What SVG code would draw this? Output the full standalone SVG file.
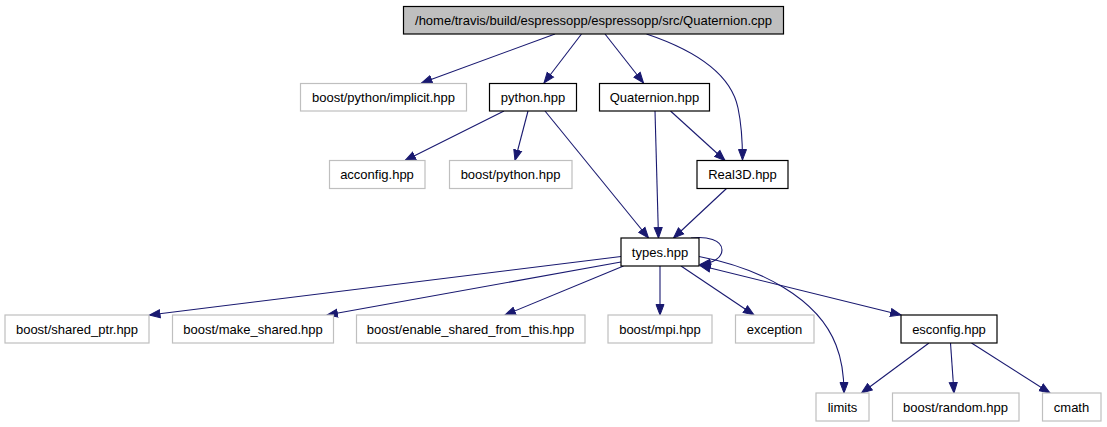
<svg xmlns="http://www.w3.org/2000/svg" width="1107" height="427" viewBox="0 0 1107 427">
<style>
.n rect{fill:#fff;stroke:#000;stroke-width:1.2}
.g rect{fill:#fff;stroke:#bfbfbf;stroke-width:1.2}
.root rect{fill:#bfbfbf;stroke:#000;stroke-width:1.2}
text{font-family:"Liberation Sans",Arial,sans-serif;font-size:13px;fill:#000;text-anchor:middle}
.e path{fill:none;stroke:#191970;stroke-width:1.1;marker-end:url(#ah)}
</style>
<defs>
<marker id="ah" markerUnits="userSpaceOnUse" markerWidth="13" markerHeight="11" refX="11" refY="4.5" orient="auto-start-reverse" viewBox="0 0 13 9">
<path d="M0.5,0.5 L11,4.5 L0.5,8.5 z" fill="#191970" stroke="#191970" stroke-width="1"/>
</marker>
</defs>
<rect width="1107" height="427" fill="#fff"/>
<g class="e" id="edges">
<path d="M555,34 L421.5,83"/>
<path d="M581.5,34 L544,83"/>
<path d="M605,34 L643.5,83"/>
<path d="M646.5,34 C694,50 731,74 738,108 C741,122 742.5,137 742.5,160"/>
<path d="M504,111 L405,160.5"/>
<path d="M528,111 L515,160.5"/>
<path d="M545,111 L648.5,238"/>
<path d="M655,111 L658.5,238"/>
<path d="M670.5,111 L725,160.5"/>
<path d="M726.5,188.5 L673.5,238"/>
<path d="M691,238 C707,236 722,240 722,250 C722,258 713,263 700,264.5"/>
<path d="M621,256.5 L149.5,315"/>
<path d="M621,262 L327,315"/>
<path d="M623.5,266 L505,315"/>
<path d="M660,266 L660,315"/>
<path d="M681,266 L754,315"/>
<path d="M699,256.5 C760,268 818,298 836,345 C842,360 844,375 844,393"/>
<path d="M700,265.5 L901,315" style="marker-start:url(#ah)"/>
<path d="M929,343 L861.5,393"/>
<path d="M950.5,343 L954,393"/>
<path d="M971.5,343 L1050,393"/>
</g>
<g id="n_root" class="root"><rect x="403.5" y="6.5" width="380" height="27.5"/><text x="593.5" y="24.5">/home/travis/build/espressopp/espressopp/src/Quaternion.cpp</text></g>
<g id="n_implicit" class="g"><rect x="300.5" y="83.5" width="166" height="27.5"/><text x="383.5" y="101.5">boost/python/implicit.hpp</text></g>
<g id="n_python" class="n"><rect x="489.5" y="83.5" width="87" height="27.5"/><text x="533" y="101.5">python.hpp</text></g>
<g id="n_quaternion" class="n"><rect x="599.5" y="83.5" width="110" height="27.5"/><text x="654.5" y="101.5">Quaternion.hpp</text></g>
<g id="n_acconfig" class="g"><rect x="329.5" y="160.5" width="95.5" height="28"/><text x="377" y="179">acconfig.hpp</text></g>
<g id="n_boostpython" class="g"><rect x="449.5" y="160.5" width="122.5" height="28"/><text x="510.5" y="179">boost/python.hpp</text></g>
<g id="n_real3d" class="n"><rect x="697" y="160.5" width="91" height="28"/><text x="742.5" y="179">Real3D.hpp</text></g>
<g id="n_types" class="n"><rect x="621" y="238" width="78" height="28"/><text x="660" y="256.5">types.hpp</text></g>
<g id="n_sharedptr" class="g"><rect x="5" y="315" width="144" height="28"/><text x="77" y="333.5">boost/shared_ptr.hpp</text></g>
<g id="n_makeshared" class="g"><rect x="172.5" y="315" width="161" height="28"/><text x="253" y="333.5">boost/make_shared.hpp</text></g>
<g id="n_enable" class="g"><rect x="356.5" y="315" width="228.5" height="28"/><text x="470.5" y="333.5">boost/enable_shared_from_this.hpp</text></g>
<g id="n_mpi" class="g"><rect x="608" y="315" width="104" height="28"/><text x="660" y="333.5">boost/mpi.hpp</text></g>
<g id="n_exception" class="g"><rect x="735.5" y="315" width="78.5" height="28"/><text x="774.5" y="333.5">exception</text></g>
<g id="n_esconfig" class="n"><rect x="901" y="315" width="96" height="28"/><text x="949" y="333.5">esconfig.hpp</text></g>
<g id="n_limits" class="g"><rect x="816" y="393" width="53" height="28"/><text x="842.5" y="411.5">limits</text></g>
<g id="n_random" class="g"><rect x="892.5" y="393" width="126.5" height="28"/><text x="955.5" y="411.5">boost/random.hpp</text></g>
<g id="n_cmath" class="g"><rect x="1042.5" y="393" width="58.5" height="28"/><text x="1071.5" y="411.5">cmath</text></g>
</svg>
